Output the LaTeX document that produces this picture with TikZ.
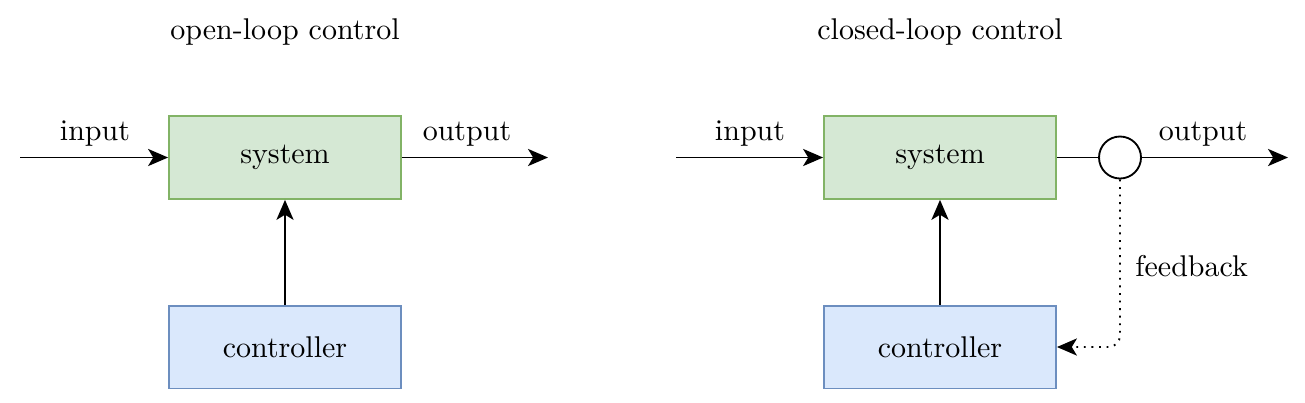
\documentclass[tikz,border=0pt]{standalone}
\usepackage{tikz}
\usetikzlibrary{arrows.meta}
\definecolor{sysfill}{HTML}{D5E8D4}
\definecolor{sysdraw}{HTML}{82B366}
\definecolor{ctrlfill}{HTML}{DAE8FC}
\definecolor{ctrldraw}{HTML}{6C8EBF}
\begin{document}
\begin{tikzpicture}[x=0.35pt, y=-0.35pt, line width=0.65pt,
  every node/.style={font=\fontsize{10.5}{12.6}\selectfont},
  sysbox/.style={draw=sysdraw, fill=sysfill, minimum width=81.2pt, minimum height=29pt, inner sep=0pt},
  ctrlbox/.style={draw=ctrldraw, fill=ctrlfill, minimum width=81.2pt, minimum height=29pt, inner sep=0pt},
  arr/.style={-{Stealth[length=7pt, width=6pt, inset=1.8pt]}}]
\useasboundingbox (0,0) rectangle (1305,402);
%%% Draws open-loop control
% draws title
\node (titleL) at (285,32) {open-loop control};
% draws blocks
\node[sysbox] (sysL) at (285,157.5) {system};
\node[ctrlbox] (ctrlL) at (285,347) {controller};
\coordinate (inL) at (20,157.5);
\coordinate (outL) at (548,157.5);
% draws edges
\draw[arr] (inL) to (sysL);
\draw[arr] (sysL) to (outL);
\draw[arr] (ctrlL) to (sysL);
% labels edges
\node (inLabL) at (95,134) {input};
\node (outLabL) at (467,134) {output};
%%% Draws closed-loop control
% draws title
\node (titleR) at (940,32) {closed-loop control};
% draws blocks
\node[sysbox] (sysR) at (940,157.5) {system};
\node[ctrlbox] (ctrlR) at (940,347) {controller};
\node[circle, draw, fill=white, minimum size=14.7pt, inner sep=0pt] (sense) at (1120,157.5) {};
\coordinate (inR) at (676,157.5);
\coordinate (outR) at (1288,157.5);
% draws edges
\draw[arr] (inR) to (sysR);
\draw (sysR) to (sense);
\draw[arr] (sense) to (outR);
\draw[arr] (ctrlR) to (sysR);
\draw[arr, dotted, rounded corners=4pt] (sense) |- (ctrlR);
% labels edges
\node (inLabR) at (750,134) {input};
\node (outLabR) at (1203,134) {output};
\node[anchor=west] (fbLab) at (1125,266) {feedback};
\end{tikzpicture}
\end{document}
